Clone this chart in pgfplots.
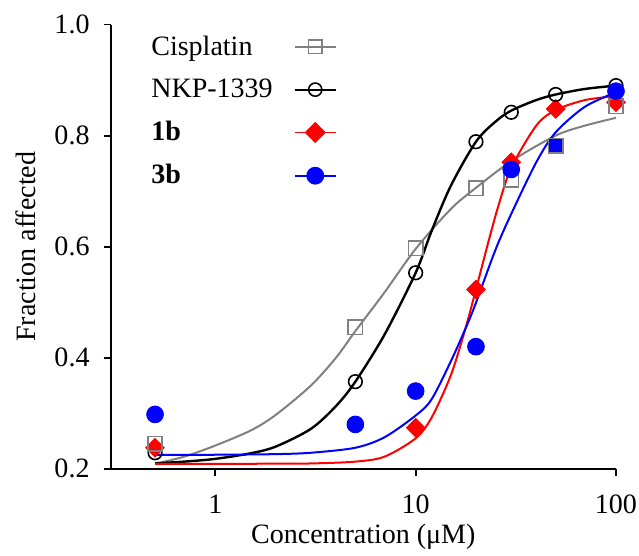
\documentclass[border=0pt]{standalone}
\usepackage{pgfplots}
\pgfplotsset{compat=1.18}
\usepackage{fontspec}
\setmainfont{Liberation Serif}
\newcommand{\fsz}{\fontsize{14}{17}\selectfont}
\definecolor{cgray}{RGB}{128,128,128}
\begin{document}
\begin{tikzpicture}
\begin{axis}[
  width=252.5pt, height=222pt, scale only axis,
  xmode=log, xmin=0.3, xmax=100, ymin=0.2, ymax=1.0,
  axis lines*=left, axis line style={line width=0.9pt},
  xtick={1,10,100}, xticklabels={1,10,100},
  ytick={0.2,0.4,0.6,0.8,1.0}, yticklabels={0.2,0.4,0.6,0.8,1.0},
  xminorticks=false, yminorticks=false,
  tick align=outside, major tick length=3.5pt,
  tick style={line width=0.9pt, black},
  tick label style={font=\fsz},
  yticklabel style={xshift=-3.5pt, inner ysep=7.5pt},
  xticklabel style={yshift=-6pt, inner xsep=1pt},
  xlabel={Concentration (μM)}, ylabel={Fraction affected},
  label style={font=\fsz},
  ylabel style={inner ysep=8pt},
  ylabel shift=-2.3pt, xlabel shift=-2pt,
  legend style={draw=none, fill=none, font=\fsz, at={(0.06,0.994)}, anchor=north west,
    row sep=6.4pt, legend cell align=left},
  legend plot pos=right,
  legend image code/.code={\path (0cm,0cm); \draw[mark repeat=2,mark phase=2,#1] plot coordinates {(0.3cm,0cm) (0.66cm,0cm) (1.02cm,0cm)};},
  clip=false,
]
\addlegendimage{cgray, line width=0.9pt, mark=square, mark size=3.4pt, mark options={line width=0.8pt}}
\addlegendentry{Cisplatin}
\addlegendimage{black, line width=0.9pt, mark=o, mark size=3.3pt, mark options={line width=0.8pt}}
\addlegendentry{NKP-1339}
\addlegendimage{red, line width=0.9pt, mark=square*, mark size=3.3pt, mark options={rotate=45}}
\addlegendentry{\textbf{1b}}
\addlegendimage{blue, line width=0.9pt, mark=*, mark size=4pt}
\addlegendentry{\textbf{3b}}

% fitted curves
\addplot[forget plot, cgray, line width=1pt, smooth, mark=none] coordinates {
 (0.5,0.209)(0.7,0.222)(1,0.242)(1.5,0.269)(2,0.297)(3,0.350)(4,0.400)(5,0.448)(7,0.518)(10,0.596)(15,0.668)(20,0.706)(30,0.754)(50,0.800)(70,0.818)(100,0.832)};
\addplot[forget plot, black, line width=1.2pt, smooth, mark=none] coordinates {
 (0.5,0.210)(0.7,0.213)(1,0.218)(1.5,0.228)(2,0.240)(3,0.272)(4,0.313)(5,0.357)(7,0.442)(10,0.553)(12,0.628)(15,0.710)(20,0.789)(25,0.825)(30,0.845)(40,0.864)(50,0.874)(70,0.884)(100,0.890)};
\addplot[forget plot, red, line width=1pt, smooth, mark=none] coordinates {
 (0.5,0.209)(1,0.209)(2,0.2093)(3,0.2097)(5,0.213)(7,0.222)(10,0.255)(12,0.292)(15,0.369)(17.7,0.452)(20,0.523)(23.2,0.612)(26,0.676)(30,0.742)(40,0.818)(50,0.846)(70,0.864)(100,0.871)};
\addplot[forget plot, blue, line width=1pt, smooth, mark=none] coordinates {
 (0.5,0.225)(1,0.2254)(2,0.2265)(3,0.229)(5,0.238)(7,0.257)(10,0.296)(12,0.325)(15,0.394)(18,0.458)(20,0.499)(25,0.594)(30,0.659)(40,0.752)(50,0.806)(70,0.852)(100,0.878)};

% data points
\addplot[forget plot, only marks, black, mark=o, mark size=3.4pt, mark options={line width=0.8pt}] coordinates {
 (0.5,0.229)};
\addplot[forget plot, only marks, red, mark=square*, mark size=3.3pt, mark options={rotate=45}] coordinates {
 (0.5,0.238)(10,0.274)(20,0.523)(30,0.752)(50,0.848)(100,0.860)};
\addplot[forget plot, only marks, blue, mark=square*, mark size=3.6pt, mark options={draw=cgray, fill=blue, line width=0.8pt}] coordinates {
 (50,0.782)};
\addplot[forget plot, only marks, cgray, mark=square, mark size=3.6pt, mark options={line width=0.8pt}] coordinates {
 (0.5,0.245)(5,0.455)(10,0.597)(20,0.705)(30,0.720)(100,0.853)};
\addplot[forget plot, only marks, black, mark=o, mark size=3.4pt, mark options={line width=0.8pt}] coordinates {
 (5,0.357)(10,0.553)(20,0.789)(30,0.842)(50,0.874)(100,0.890)};
\addplot[forget plot, only marks, blue, mark=*, mark size=4.2pt] coordinates {
 (0.5,0.298)(5,0.280)(10,0.340)(20,0.420)(30,0.739)(100,0.880)};
\end{axis}
\end{tikzpicture}
\end{document}
